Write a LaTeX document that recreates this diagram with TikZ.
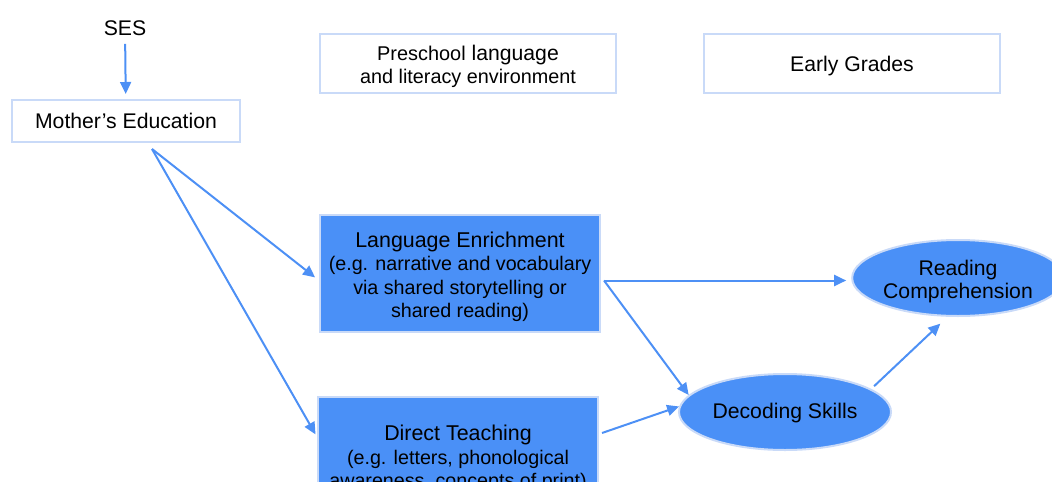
\documentclass[tikz,border=0pt]{standalone}
\usepackage{fontspec}
\setmainfont{Liberation Sans}
\usetikzlibrary{shapes.geometric,arrows.meta,positioning}

\definecolor{fillblue}{RGB}{74,144,247}
\definecolor{edgeblue}{RGB}{201,218,248}
\definecolor{arrowblue}{RGB}{77,144,245}

% invisible strut, pushes the first line of a node down
\newcommand{\topgap}[1]{\rule{0pt}{#1}}
% bigger first line in the blue boxes
\newcommand{\boxtitle}[1]{{\fontsize{10.7}{11.6}\selectfont #1}}

\begin{document}
\begin{tikzpicture}[x=0.5pt,y=-0.5pt,
    font=\fontsize{10.6}{11.5}\selectfont,
    every node/.style={inner sep=0pt,align=center},
    textdrop/.style={execute at begin node={\rule{0pt}{#1}}},
    hdr/.style={draw=edgeblue,line width=1pt,fill=white,minimum width=148pt,minimum height=29.5pt},
    skill/.style={draw=edgeblue,line width=1pt,fill=fillblue,minimum width=140pt,font=\fontsize{9.85}{11.6}\selectfont},
    outc/.style={ellipse,draw=edgeblue,line width=1pt,fill=fillblue,minimum width=105pt,minimum height=38pt},
    arr/.style={draw=arrowblue,line width=1pt,-{Triangle[length=6pt,width=5.5pt]}}]
    \clip (0,0) rectangle (1052,481);
    \node (ses) at (125,28) {SES};
    \node[hdr,minimum width=114pt,minimum height=21pt] (mo) at (126,121) {Mother's Education};
    \node[hdr] (pre) at (468,63.5) {\topgap{10.7pt}{\fontsize{9.95}{11.5}\selectfont Preschool} language\\{\fontsize{9.9}{11.5}\selectfont and literacy environment}};
    \node[hdr,textdrop=10.6pt] (eg) [right=43pt of pre] {Early Grades};
    \node[skill,minimum height=58.5pt] (le) at (460,273.5) {\topgap{11pt}\boxtitle{Language Enrichment}\\(e.g. narrative and vocabulary\\via shared storytelling or\\shared reading)};
    \node[skill,minimum height=60pt] (dt) at (458,457) {\topgap{9.2pt}\boxtitle{Direct Teaching}\\(e.g. letters, phonological\\awareness, concepts of print)};
    \node[outc] (rc) at (958,278) {\topgap{10.7pt}Reading\\Comprehension};
    \node[outc,minimum width=106pt,textdrop=9pt] (dec) at (785,412) {Decoding Skills};
    \coordinate (mofork) at ([xshift=13pt,yshift=-3pt]mo.south);
    \coordinate (lefork) at ([xshift=1.5pt,yshift=-3.5pt]le.east);
    \draw[arr,shorten <=4pt,shorten >=2.5pt] (ses) -- (mo);
    \draw[arr,shorten >=2.5pt] (mofork) -- ([yshift=-3.5pt]le.west);
    \draw[arr,shorten >=1.5pt] (mofork) -- ([yshift=10pt]dt.west);
    \draw[arr,shorten >=2.5pt] (lefork) -- (rc.west|-lefork);
    \draw[arr] (lefork) -- (dec.170);
    \draw[arr] ([xshift=1.5pt,yshift=12pt]dt.east) -- (dec.177);
    \draw[arr,shorten <=2pt,shorten >=5pt] (dec.15) -- (rc.255);
\end{tikzpicture}
\end{document}
